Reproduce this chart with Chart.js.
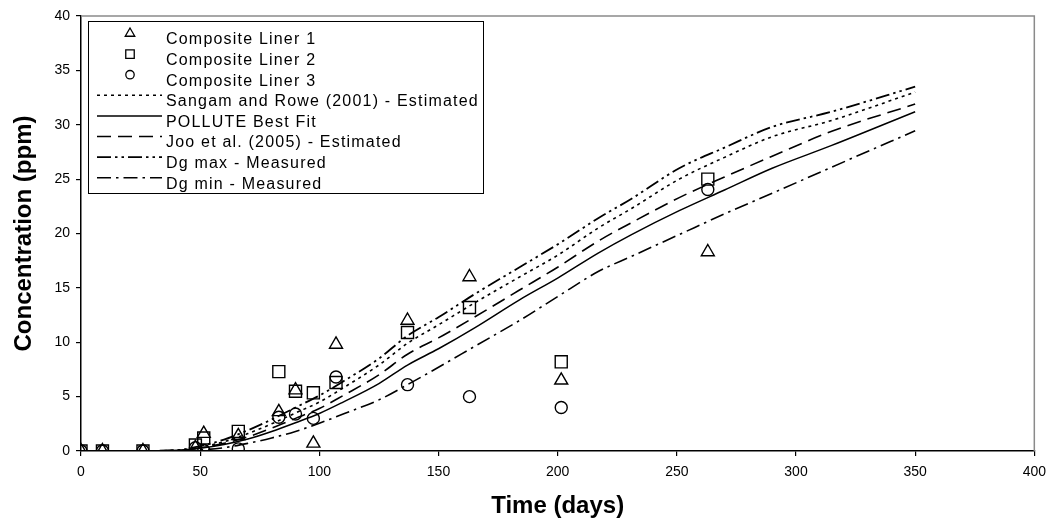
<!DOCTYPE html>
<html>
<head>
<meta charset="utf-8">
<script src="https://cdn.jsdelivr.net/npm/chart.js@4.4.1/dist/chart.umd.min.js"></script>
<style>
html, body { margin: 0; padding: 0; background: #fff; }
canvas { display: block; }
</style>
</head>
<body>
<canvas id="chart" width="1054" height="526"></canvas>
<script>
// measured concentrations (ppm) at each sampling day
const sampleDays = [0, 9, 26, 48, 51.5, 66, 83, 90, 97.5, 107, 137, 163, 201.5, 263];
const liner1 = [0, 0, 0, 0.3, 1.6, 1.4, 3.6, 5.6, 0.7, 9.8, 12.0, 16.0, 6.5, 18.3];
const liner2 = [0, 0, 0, 0.55, 1.2, 1.8, 7.3, 5.5, 5.35, 6.3, 10.9, 13.2, 8.2, 25.0];
const liner3 = [0, 0, 0, 0.3, 0.05, 0.2, 3.1, 3.4, 3.0, 6.8, 6.1, 5.0, 4.0, 24.05];

// model curves
const modelDays = [20, 40, 50, 60, 70, 80, 90, 100, 110, 125, 137, 150, 165, 184, 200, 217, 231, 251, 270, 290, 315, 350];
const sangamRowe = [0, 0.06, 0.35, 0.85, 1.6, 2.5, 3.5, 4.5, 5.8, 7.9, 9.9, 11.6, 13.6, 16.0, 18.0, 20.5, 22.3, 25.0, 27.0, 28.9, 30.4, 33.0];
const polluteFit = [0, 0.05, 0.25, 0.6, 1.1, 1.8, 2.6, 3.45, 4.5, 6.2, 7.9, 9.4, 11.3, 13.9, 15.9, 18.2, 19.9, 22.1, 24.0, 26.0, 28.1, 31.2];
const jooEtAl = [0, 0.05, 0.3, 0.7, 1.3, 2.1, 3.0, 3.9, 5.1, 7.0, 8.9, 10.4, 12.3, 14.8, 16.9, 19.3, 21.0, 23.3, 25.2, 27.1, 29.4, 31.9];
const dgMax = [0, 0.08, 0.45, 1.05, 1.9, 2.9, 4.0, 5.1, 6.4, 8.5, 10.6, 12.3, 14.4, 16.9, 19.0, 21.4, 23.2, 26.0, 27.9, 29.8, 31.2, 33.5];
const dgMin = [0, 0.02, 0.1, 0.3, 0.7, 1.2, 1.8, 2.55, 3.4, 4.7, 6.1, 7.7, 9.6, 12.0, 14.2, 16.5, 17.9, 19.9, 21.8, 23.7, 26.1, 29.45];

const seriesLabels = [
  'Composite Liner 1', 'Composite Liner 2', 'Composite Liner 3',
  'Sangam and Rowe (2001) - Estimated', 'POLLUTE Best Fit',
  'Joo et al. (2005) - Estimated', 'Dg max - Measured', 'Dg min - Measured'
];

function pairs(xs, ys) {
  return xs.map((x, i) => ({ x: x, y: ys[i] }));
}

function markerSet(label, ys, style, r) {
  return {
    type: 'scatter', label: label, data: pairs(sampleDays, ys),
    pointStyle: style, pointRadius: r, pointHoverRadius: r,
    borderColor: '#000', backgroundColor: 'rgba(0,0,0,0)',
    pointBorderWidth: 1.4, showLine: false, legendRadius: style === 'triangle' ? 5.5 : (style === 'rect' ? 6 : 4.2)
  };
}

function curveSet(label, ys, dash, width) {
  return {
    type: 'line', label: label, data: pairs(modelDays, ys),
    borderColor: '#000', backgroundColor: '#000', borderWidth: width,
    borderDash: dash, pointRadius: 0, cubicInterpolationMode: 'monotone', fill: false
  };
}

const datasets = [
  markerSet(seriesLabels[0], liner1, 'triangle', 7.5),
  markerSet(seriesLabels[1], liner2, 'rect', 8.5),
  markerSet(seriesLabels[2], liner3, 'circle', 6),
  curveSet(seriesLabels[3], sangamRowe, [3, 4], 1.6),
  curveSet(seriesLabels[4], polluteFit, [], 1.5),
  curveSet(seriesLabels[5], jooEtAl, [14, 7], 1.6),
  curveSet(seriesLabels[6], dgMax, [14, 4, 2.5, 4, 2.5, 4], 1.8),
  curveSet(seriesLabels[7], dgMin, [14, 5, 2.5, 5], 1.6)
];

// grey frame on top/right of plot area + boxed legend
const frameAndLegend = {
  id: 'frameAndLegend',
  beforeDatasetsDraw(chart) {
    const ctx = chart.ctx, a = chart.chartArea;
    ctx.save();
    ctx.strokeStyle = '#8a8a8a';
    ctx.lineWidth = 1.5;
    ctx.beginPath();
    ctx.moveTo(a.left, a.top);
    ctx.lineTo(a.right, a.top);
    ctx.lineTo(a.right, a.bottom);
    ctx.stroke();
    ctx.restore();
  },
  afterDraw(chart) {
    const ctx = chart.ctx;
    const left = 88, top = 21, bottom = 193;
    const textX = 166, lineX0 = 97, lineX1 = 162, markX = 130;
    ctx.save();
    ctx.font = '16px "Liberation Sans", Arial, sans-serif';
    ctx.letterSpacing = '1.2px';
    let maxW = 0;
    chart.data.datasets.forEach(ds => { maxW = Math.max(maxW, ctx.measureText(ds.label).width); });
    const right = Math.round(textX + maxW + 4);
    ctx.fillStyle = '#fff';
    ctx.fillRect(left, top, right - left, bottom - top);
    ctx.strokeStyle = '#000';
    ctx.lineWidth = 1;
    ctx.strokeRect(left + 0.5, top + 0.5, right - left, bottom - top);
    ctx.beginPath();
    ctx.rect(left + 1, top + 1, right - left - 1, bottom - top - 1);
    ctx.clip();
    chart.data.datasets.forEach((ds, i) => {
      const ty = 40 + i * 20.6;
      const sy = ty - 6.5;
      ctx.fillStyle = '#000';
      ctx.textBaseline = 'middle';
      ctx.textAlign = 'left';
      ctx.fillText(ds.label, textX, ty);
      ctx.strokeStyle = '#000';
      if (ds.type === 'scatter') {
        ctx.setLineDash([]);
        ctx.lineWidth = 1.3;
        ctx.fillStyle = 'rgba(0,0,0,0)';
        Chart.helpers.drawPoint(ctx, { pointStyle: ds.pointStyle, radius: ds.legendRadius, rotation: 0, borderWidth: 1.3 }, markX, sy);
      } else {
        ctx.lineWidth = ds.borderWidth;
        ctx.setLineDash(ds.borderDash);
        ctx.beginPath();
        ctx.moveTo(lineX0, sy);
        ctx.lineTo(lineX1, sy);
        ctx.stroke();
        ctx.setLineDash([]);
      }
    });
    ctx.restore();
  }
};

const tickFont = { family: '"Liberation Sans", Arial, sans-serif', size: 14 };
const titleFont = { family: '"Liberation Sans", Arial, sans-serif', size: 24, weight: 'bold' };

new Chart(document.getElementById('chart'), {
  type: 'scatter',
  data: { datasets: datasets },
  options: {
    responsive: false,
    animation: false,
    layout: { autoPadding: false, padding: { top: 16, right: 17, left: 0, bottom: 0 } },
    plugins: { legend: { display: false }, tooltip: { enabled: false } },
    scales: {
      x: {
        type: 'linear', min: 0, max: 400,
        ticks: { stepSize: 50, color: '#000', font: tickFont, padding: 8 },
        grid: { drawOnChartArea: false, drawTicks: true, tickLength: 5, color: '#000', lineWidth: 1.2 },
        border: { color: '#000', width: 1.5 },
        title: { display: true, text: 'Time (days)', color: '#000', font: titleFont, padding: { top: 0, bottom: 5 } },
        afterFit: s => { s.height = 75; }
      },
      y: {
        type: 'linear', min: 0, max: 40,
        ticks: { stepSize: 5, color: '#000', font: tickFont, padding: 6 },
        grid: { drawOnChartArea: false, drawTicks: true, tickLength: 5, color: '#000', lineWidth: 1.2 },
        border: { color: '#000', width: 1.5 },
        title: { display: true, text: 'Concentration (ppm)', color: '#000', font: titleFont, padding: { top: 10, bottom: 0 } },
        afterFit: s => { s.width = 81; }
      }
    }
  },
  plugins: [frameAndLegend]
});
</script>
</body>
</html>
